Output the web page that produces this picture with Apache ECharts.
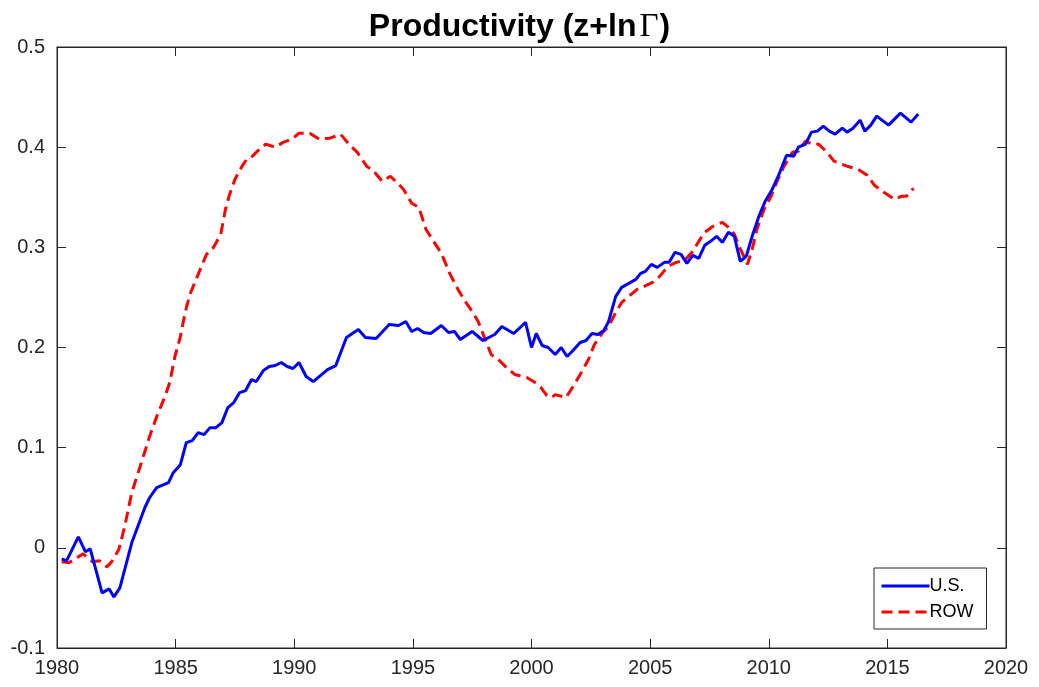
<!DOCTYPE html>
<html>
<head>
    <meta charset="utf-8">
    <script src="https://cdn.jsdelivr.net/npm/echarts@6/dist/echarts.min.js"></script>
    <style type="text/css">
        html, body { width: 100%; height: 100%; margin: 0; background: #fff; }
        #chart { width: 1039px; height: 687px; }
    </style>
</head>
<body>
<div id="chart"></div>
<script type="text/javascript">
    // U.S. series (year, value)
    var usYears = [1980.2, 1980.4, 1980.9, 1981.2, 1981.4, 1981.9, 1982.2, 1982.4, 1982.65, 1983.15,
        1983.7, 1983.9, 1984.2, 1984.7, 1984.9, 1985.2, 1985.45, 1985.7, 1985.95, 1986.2,
        1986.45, 1986.7, 1986.95, 1987.2, 1987.45, 1987.7, 1987.95, 1988.2, 1988.4, 1988.7,
        1988.95, 1989.2, 1989.45, 1989.7, 1989.95, 1990.2, 1990.5, 1990.8, 1991.1, 1991.4,
        1991.75, 1992.2, 1992.7, 1993.0, 1993.45, 1994.0, 1994.4, 1994.7, 1994.95, 1995.2,
        1995.45, 1995.75, 1996.2, 1996.5, 1996.75, 1997.0, 1997.5, 1997.95, 1998.45, 1998.75,
        1999.25, 1999.75, 2000.0, 2000.2, 2000.45, 2000.7, 2001.0, 2001.25, 2001.5, 2001.75,
        2002.05, 2002.3, 2002.55, 2002.8, 2003.05, 2003.25, 2003.55, 2003.8, 2004.1, 2004.4,
        2004.6, 2004.8, 2005.05, 2005.3, 2005.6, 2005.8, 2006.05, 2006.3, 2006.55, 2006.8,
        2007.05, 2007.3, 2007.55, 2007.8, 2008.05, 2008.3, 2008.55, 2008.8, 2009.05, 2009.3,
        2009.6, 2009.85, 2010.15, 2010.4, 2010.75, 2011.05, 2011.25, 2011.55, 2011.8, 2012.05,
        2012.3, 2012.55, 2012.8, 2013.1, 2013.3, 2013.55, 2013.85, 2014.05, 2014.3, 2014.55,
        2015.05, 2015.55, 2016.0, 2016.3];
    var usValues = [-0.011, -0.013, 0.011, -0.004, -0.001, -0.045, -0.041, -0.049, -0.040, 0.005,
        0.040, 0.050, 0.060, 0.065, 0.075, 0.083, 0.105, 0.107, 0.115, 0.113,
        0.120, 0.120, 0.125, 0.140, 0.145, 0.155, 0.157, 0.168, 0.166, 0.177,
        0.181, 0.182, 0.185, 0.181, 0.179, 0.185, 0.171, 0.166, 0.172, 0.178,
        0.182, 0.210, 0.218, 0.210, 0.209, 0.223, 0.222, 0.226, 0.216, 0.219,
        0.215, 0.214, 0.222, 0.215, 0.216, 0.208, 0.216, 0.207, 0.213, 0.221,
        0.214, 0.225, 0.200, 0.214, 0.202, 0.200, 0.193, 0.200, 0.191, 0.197,
        0.205, 0.207, 0.214, 0.213, 0.217, 0.226, 0.251, 0.260, 0.264, 0.268,
        0.274, 0.276, 0.283, 0.280, 0.285, 0.285, 0.295, 0.293, 0.284, 0.292,
        0.289, 0.302, 0.306, 0.311, 0.305, 0.315, 0.311, 0.286, 0.291, 0.311,
        0.332, 0.346, 0.358, 0.371, 0.392, 0.391, 0.400, 0.403, 0.415, 0.416,
        0.421, 0.416, 0.413, 0.419, 0.415, 0.419, 0.427, 0.416, 0.422, 0.431,
        0.422, 0.434, 0.425, 0.433];

    // ROW series (year, value)
    var rowYears = [1980.2, 1980.5, 1981.1, 1981.5, 1981.8, 1982.1, 1982.3, 1982.6, 1982.85, 1983.15,
        1983.5, 1983.9, 1984.2, 1984.55, 1984.75, 1984.97, 1985.2, 1985.4, 1985.6, 1985.95,
        1986.3, 1986.6, 1986.9, 1987.1, 1987.25, 1987.5, 1987.8, 1988.0, 1988.15, 1988.45,
        1988.8, 1989.2, 1989.55, 1989.9, 1990.2, 1990.65, 1991.05, 1991.5, 1991.95, 1992.3,
        1992.65, 1993.05, 1993.35, 1993.7, 1994.05, 1994.4, 1994.6, 1994.95, 1995.25, 1995.55,
        1995.9, 1996.2, 1996.55, 1996.9, 1997.2, 1997.5, 1997.75, 1998.05, 1998.3, 1998.6,
        1998.95, 1999.3, 1999.8, 2000.15, 2000.4, 2000.65, 2000.85, 2001.0, 2001.45, 2001.75,
        2002.1, 2002.4, 2002.65, 2003.0, 2003.25, 2003.55, 2003.8, 2004.2, 2004.45, 2004.75,
        2005.1, 2005.4, 2005.75, 2006.1, 2006.45, 2006.8, 2007.05, 2007.3, 2007.65, 2008.05,
        2008.3, 2008.55, 2008.75, 2008.95, 2009.1, 2009.3, 2009.5, 2009.8, 2010.1, 2010.35,
        2010.65, 2011.0, 2011.25, 2011.55, 2011.85, 2012.1, 2012.45, 2012.75, 2013.3, 2013.75,
        2014.15, 2014.45, 2014.85, 2015.3, 2015.6, 2015.8, 2016.1];
    var rowValues = [-0.014, -0.015, -0.006, -0.014, -0.013, -0.019, -0.014, -0.002, 0.021, 0.055,
        0.081, 0.111, 0.131, 0.151, 0.165, 0.191, 0.211, 0.235, 0.253, 0.273,
        0.293, 0.300, 0.313, 0.338, 0.351, 0.368, 0.381, 0.388, 0.389, 0.396,
        0.403, 0.400, 0.405, 0.408, 0.414, 0.414, 0.408, 0.409, 0.413, 0.403,
        0.395, 0.381, 0.376, 0.366, 0.371, 0.363, 0.358, 0.344, 0.340, 0.318,
        0.305, 0.294, 0.274, 0.258, 0.246, 0.236, 0.226, 0.208, 0.193, 0.188,
        0.180, 0.173, 0.170, 0.165, 0.160, 0.152, 0.150, 0.153, 0.150, 0.161,
        0.175, 0.188, 0.203, 0.215, 0.221, 0.235, 0.245, 0.253, 0.258, 0.261,
        0.265, 0.271, 0.281, 0.285, 0.287, 0.296, 0.306, 0.315, 0.321, 0.325,
        0.320, 0.313, 0.301, 0.291, 0.283, 0.298, 0.318, 0.338, 0.351, 0.366,
        0.381, 0.395, 0.396, 0.406, 0.403, 0.403, 0.395, 0.386, 0.381, 0.378,
        0.372, 0.362, 0.355, 0.348, 0.351, 0.351, 0.359];

    var seriesNames = ['U.S.', 'ROW'];

    function pairs(xs, ys) {
        return xs.map(function (x, i) { return [x, ys[i]]; });
    }

    var axisColor = '#262626';
    var labelFont = 'Liberation Sans, Arial, Helvetica, sans-serif';

    var option = {
        backgroundColor: '#ffffff',
        animation: false,
        title: {
            text: '{a|Productivity (z+ln}{g|Γ}{a|)}',
            left: 'center',
            top: 6,
            textStyle: {
                rich: {
                    a: { fontFamily: labelFont, fontWeight: 'bold', fontSize: 32, color: '#000' },
                    g: { fontFamily: 'Liberation Serif, Times New Roman, serif', fontWeight: 'normal', fontSize: 33, color: '#000', padding: [0, 1, 0, 3] }
                }
            }
        },
        grid: {
            left: 57,
            right: 33,
            top: 47,
            bottom: 39,
            show: true,
            borderColor: axisColor,
            borderWidth: 1,
            backgroundColor: '#fff'
        },
        legend: {
            data: seriesNames,
            orient: 'vertical',
            left: 874,
            top: 568,
            padding: [9, 13, 8, 6],
            itemGap: 8,
            itemWidth: 48,
            itemHeight: 18,
            backgroundColor: '#fff',
            borderColor: axisColor,
            borderWidth: 1,
            borderRadius: 0,
            itemStyle: { opacity: 0 },
            lineStyle: { width: 3 },
            textStyle: { fontFamily: labelFont, fontSize: 18, color: '#000', padding: [0, 0, 0, -5] }
        },
        xAxis: [
            {
                type: 'value',
                min: 1980,
                max: 2020,
                interval: 5,
                position: 'bottom',
                axisLine: { show: true, onZero: false, lineStyle: { color: axisColor, width: 1 } },
                axisTick: { show: true, inside: true, length: 9, lineStyle: { color: axisColor } },
                axisLabel: { fontFamily: labelFont, fontSize: 20, color: axisColor, margin: 10,
                    formatter: function (v) { return String(v); } },
                splitLine: { show: false }
            },
            {
                type: 'value',
                min: 1980,
                max: 2020,
                interval: 5,
                position: 'top',
                axisLine: { show: true, onZero: false, lineStyle: { color: axisColor, width: 1 } },
                axisTick: { show: true, inside: true, length: 9, lineStyle: { color: axisColor } },
                axisLabel: { show: false },
                splitLine: { show: false }
            }
        ],
        yAxis: [
            {
                type: 'value',
                min: -0.1,
                max: 0.5,
                interval: 0.1,
                position: 'left',
                axisLine: { show: true, onZero: false, lineStyle: { color: axisColor, width: 1 } },
                axisTick: { show: true, inside: true, length: 9, lineStyle: { color: axisColor } },
                axisLabel: { fontFamily: labelFont, fontSize: 20, color: axisColor, margin: 12 },
                splitLine: { show: false }
            },
            {
                type: 'value',
                min: -0.1,
                max: 0.5,
                interval: 0.1,
                position: 'right',
                axisLine: { show: true, onZero: false, lineStyle: { color: axisColor, width: 1 } },
                axisTick: { show: true, inside: true, length: 9, lineStyle: { color: axisColor } },
                axisLabel: { show: false },
                splitLine: { show: false }
            }
        ],
        series: [
            {
                name: seriesNames[0],
                type: 'line',
                data: pairs(usYears, usValues),
                symbol: 'none',
                z: 3,
                lineStyle: { color: '#0000ff', width: 3 },
                itemStyle: { color: '#0000ff' }
            },
            {
                name: seriesNames[1],
                type: 'line',
                data: pairs(rowYears, rowValues),
                symbol: 'none',
                z: 2,
                lineStyle: { color: '#ff0000', width: 3, type: [11, 6] },
                itemStyle: { color: '#ff0000' }
            }
        ]
    };

    var myChart = echarts.init(document.getElementById('chart'));
    myChart.setOption(option);
</script>
</body>
</html>
